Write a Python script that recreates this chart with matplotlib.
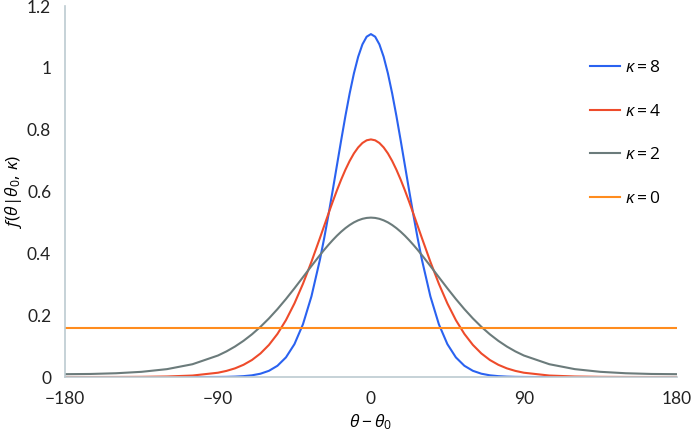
import numpy as np
import matplotlib
matplotlib.use('Agg')
import matplotlib.pyplot as plt

# angle offsets (degrees) and curve values
theta = [-180, -165, -150, -135, -120, -105, -90, -85, -80, -75, -70, -65, -60, -55, -50, -45,
         -40, -35, -30, -27.5, -25, -22.5, -20, -17.5, -15, -12.5, -10, -7.5, -5, -2.5, 0,
         2.5, 5, 7.5, 10, 12.5, 15, 17.5, 20, 22.5, 25, 27.5, 30, 35, 40, 45, 50, 55,
         60, 65, 70, 75, 80, 85, 90, 105, 120, 135, 150, 165, 180]

k8 = [0.0, 0.0, 0.0, 0.0, 0.0, 0.0, 0.0004, 0.0007, 0.0015, 0.0030, 0.0057, 0.0109, 0.0203,
      0.0366, 0.0637, 0.1066, 0.1707, 0.2611, 0.3799, 0.4494, 0.5244, 0.6035, 0.6849, 0.7662,
      0.8449, 0.9179, 0.9826, 1.0362, 1.0763, 1.1012, 1.1096,
      1.1012, 1.0763, 1.0362, 0.9826, 0.9179, 0.8449, 0.7662, 0.6849, 0.6035, 0.5244, 0.4494,
      0.3799, 0.2611, 0.1707, 0.1066, 0.0637, 0.0366, 0.0203, 0.0109, 0.0057, 0.0030, 0.0015,
      0.0007, 0.0004, 0.0, 0.0, 0.0, 0.0, 0.0, 0.0]

k4 = [0.0003, 0.0003, 0.0004, 0.0008, 0.0019, 0.0050, 0.0141, 0.0200, 0.0282, 0.0397, 0.0553,
      0.0764, 0.1041, 0.1397, 0.1842, 0.2383, 0.3016, 0.3730, 0.4499, 0.4893, 0.5286, 0.5670,
      0.6041, 0.6389, 0.6709, 0.6993, 0.7236, 0.7430, 0.7573, 0.7660, 0.7689,
      0.7660, 0.7573, 0.7430, 0.7236, 0.6993, 0.6709, 0.6389, 0.6041, 0.5670, 0.5286, 0.4893,
      0.4499, 0.3730, 0.3016, 0.2383, 0.1842, 0.1397, 0.1041, 0.0764, 0.0553, 0.0397, 0.0282,
      0.0200, 0.0141, 0.0050, 0.0019, 0.0008, 0.0004, 0.0003, 0.0003]

k2 = [0.0094, 0.0101, 0.0124, 0.0170, 0.0257, 0.0416, 0.0698, 0.0831, 0.0988, 0.1172, 0.1384,
      0.1626, 0.1898, 0.2199, 0.2525, 0.2872, 0.3231, 0.3593, 0.3946, 0.4116, 0.4277, 0.4430,
      0.4573, 0.4703, 0.4819, 0.4920, 0.5005, 0.5071, 0.5120, 0.5149, 0.5159,
      0.5149, 0.5120, 0.5071, 0.5005, 0.4920, 0.4819, 0.4703, 0.4573, 0.4430, 0.4277, 0.4116,
      0.3946, 0.3593, 0.3231, 0.2872, 0.2525, 0.2199, 0.1898, 0.1626, 0.1384, 0.1172, 0.0988,
      0.0831, 0.0698, 0.0416, 0.0257, 0.0170, 0.0124, 0.0101, 0.0094]

k0_theta = [-180, 180]
k0 = [0.159, 0.159]

xticks = [-180, -90, 0, 90, 180]
yticks = [0, 0.2, 0.4, 0.6, 0.8, 1.0, 1.2]
ytick_labels = ['0', '0.2', '0.4', '0.6', '0.8', '1', '1.2']

plt.rcParams['font.family'] = ['Lato', 'DejaVu Sans']
plt.rcParams['mathtext.fontset'] = 'custom'
plt.rcParams['mathtext.rm'] = 'Open Sans'
plt.rcParams['mathtext.it'] = 'Open Sans:italic'

fig = plt.figure(figsize=(6.92, 4.4), dpi=100)
ax = fig.add_axes([0.094, 0.143, 0.884, 0.843])

ax.plot(theta, k8, color='#2a62f0', lw=1.5, label=r'$\kappa = 8$')
ax.plot(theta, k4, color='#ee4b2b', lw=1.5, label=r'$\kappa = 4$')
ax.plot(theta, k2, color='#6b7b7b', lw=1.5, label=r'$\kappa = 2$')
ax.plot(k0_theta, k0, color='#ff8c1e', lw=1.5, label=r'$\kappa = 0$')

ax.set_xlim(-180, 180)
ax.set_ylim(0, 1.2)
ax.set_xticks(xticks)
ax.set_xticklabels([str(t).replace('-', '\u2212') for t in xticks])
ax.set_yticks(yticks)
ax.set_yticklabels(ytick_labels)
ax.tick_params(length=0, labelsize=12.5, colors='#222222', pad=10)

for s in ['top', 'right']:
    ax.spines[s].set_visible(False)
for s in ['left', 'bottom']:
    ax.spines[s].set_color('#bccbd1')
    ax.spines[s].set_linewidth(1.2)

ax.set_xlabel(r'$\theta - \theta_0$', fontsize=12.5, labelpad=4)
ax.set_ylabel(r'$f(\theta|\theta_0,\, \kappa)$', fontsize=12.5, labelpad=2)

leg = ax.legend(loc='upper right', bbox_to_anchor=(1.0, 0.90), frameon=False, fontsize=12.5,
                labelspacing=1.6, handlelength=1.7, handletextpad=0.3)

fig.savefig('out.png', dpi=100)
